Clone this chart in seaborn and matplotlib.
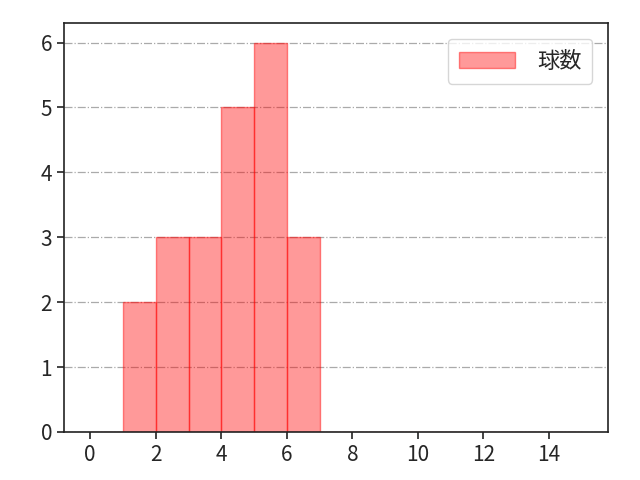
import numpy as np
import pandas as pd
import matplotlib
matplotlib.use("Agg")
import matplotlib.pyplot as plt
import seaborn as sns

# 階級の左端と度数
bin_left = [1, 2, 3, 4, 5, 6]
counts = [2, 3, 3, 5, 6, 3]
bin_edges = list(range(0, 16))

sns.set_style("ticks")
plt.rcParams["font.family"] = ["Noto Sans CJK JP", "DejaVu Sans"]

df = pd.DataFrame({"value": [b + 0.5 for b in bin_left], "count": counts})

fig, ax = plt.subplots(figsize=(6.4, 4.8), dpi=100)
sns.histplot(data=df, x="value", weights="count", bins=bin_edges,
             color="red", linewidth=1.0, label="球数", ax=ax)
for p in ax.patches:
    p.set_alpha(None)
    p.set_facecolor((1.0, 0.0, 0.0, 0.4))
    p.set_edgecolor((1.0, 0.0, 0.0, 0.45))

ax.set_xlim(-0.8, 15.8)
ax.set_xticks(range(0, 16, 2))
ax.set_xlabel("")
ax.set_ylabel("")
ax.grid(axis="y", color="#aaaaaa", linestyle="-.", linewidth=0.9)
ax.set_axisbelow(True)
ax.tick_params(labelsize=15, length=5, width=1.2, color="#222222")
for s in ax.spines.values():
    s.set_linewidth(1.2)
    s.set_color("#222222")
ax.legend(loc="upper right", fontsize=16, borderpad=0.5,
          handlelength=2.5, handletextpad=1.0, borderaxespad=0.7)

fig.subplots_adjust(left=0.1, right=0.95, top=0.952, bottom=0.1)
plt.savefig("out.png", dpi=100)
plt.close()
